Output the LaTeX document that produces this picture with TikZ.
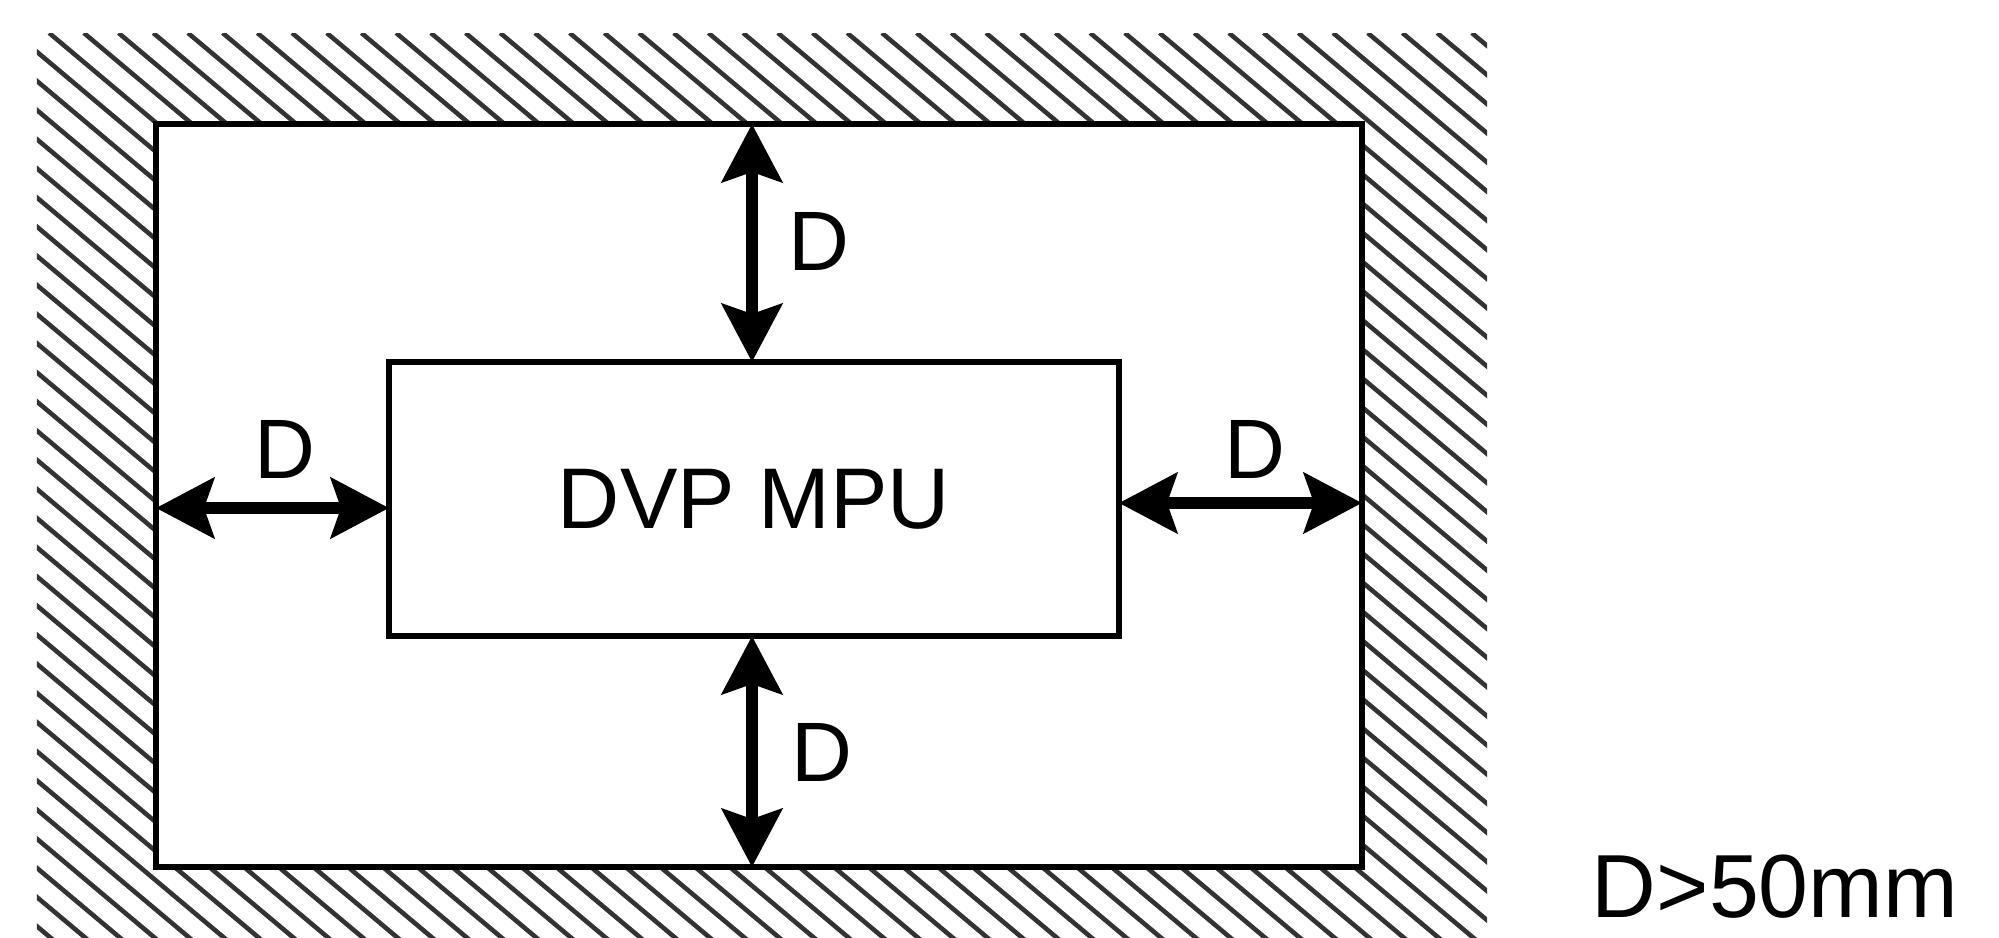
\documentclass[tikz,border=0pt]{standalone}
\usepackage{fontspec}
\setmainfont{Liberation Sans}
\usetikzlibrary{positioning, arrows.meta, calc}

\tikzset{
  clearance/.style={<->, line width=3.2pt, >={Stealth[length=5.8mm, width=6mm, inset=1mm]}},
  wallbox/.style={draw, line width=1.6pt, fill=white, inner sep=0pt, outer sep=0pt},
  dimlabel/.style={font=\fontsize{24}{28}\selectfont, inner sep=0pt}
}

\begin{document}
\begin{tikzpicture}[>=Stealth, thick]
    \useasboundingbox (0,0) rectangle (19.99,9.37);
    % hatched wall
    \begin{scope}
      \clip (0.37,0) rectangle (14.87,9.04);
      \foreach \x in {-12,-11.653,...,15.5}{\draw[line width=1.3pt, black!80] (\x,9.04) -- ++(12,-10.08);}
    \end{scope}
    \node[wallbox, minimum width=12.06cm, minimum height=7.43cm] (cabinet) at (7.59,4.415) {};
    \node[wallbox, minimum width=7.30cm, minimum height=2.74cm,
          font=\fontsize{24.5}{28}\selectfont] (mpu) at (7.54,4.38) {DVP MPU};
    % clearances
    \draw[clearance] ([xshift=-0.02cm]mpu.north) -- ([xshift=-0.02cm]mpu.north |- cabinet.north);
    \draw[clearance] ([xshift=-0.02cm]mpu.south) -- ([xshift=-0.02cm]mpu.south |- cabinet.south);
    \draw[clearance] ([yshift=-0.09cm]mpu.west) -- ([yshift=-0.09cm]mpu.west -| cabinet.west);
    \draw[clearance] ([yshift=-0.04cm]mpu.east) -- ([yshift=-0.04cm]mpu.east -| cabinet.east);
    \node[dimlabel] (dtop) at (8.19,6.96) {D};
    \node[dimlabel] (dbottom) at (8.22,1.85) {D};
    \node[dimlabel] (dleft) at (2.85,4.88) {D};
    \node[dimlabel] (dright) at (12.55,4.88) {D};
    \node[dimlabel, font=\fontsize{25.5}{30}\selectfont] (rule) at (17.75,0.5) {D>50mm};
  \end{tikzpicture}
\end{document}
